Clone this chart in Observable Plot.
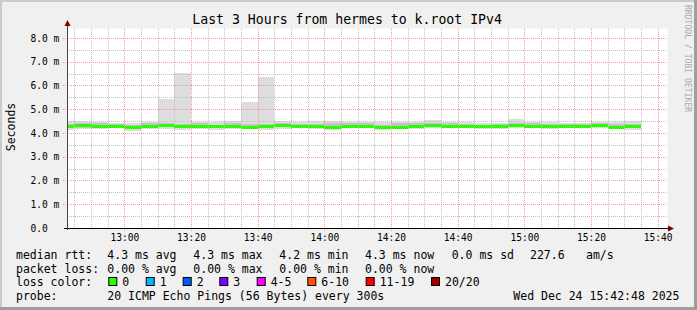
<!DOCTYPE html>
<html><head><meta charset="utf-8">
<script src="https://cdn.jsdelivr.net/npm/d3@7"></script>
<script src="https://cdn.jsdelivr.net/npm/@observablehq/plot@0.6"></script>
<style>
html,body{margin:0;padding:0;background:#f0f0f0;}
#chart{width:697px;height:310px;position:relative;overflow:hidden;}
svg{display:block}
</style></head><body><div id="chart"></div>
<script>
// ---- data ----
const binStart = ["12:40","12:45","12:50","12:55","13:00","13:05","13:10","13:15","13:20","13:25",
  "13:30","13:35","13:40","13:45","13:50","13:55","14:00","14:05","14:10","14:15",
  "14:20","14:25","14:30","14:35","14:40","14:45","14:50","14:55","15:00","15:05",
  "15:10","15:15","15:20","15:25","15:30"];
const medianMs = [4.28,4.33,4.28,4.28,4.27,4.28,4.32,4.30,4.28,4.29,
  4.28,4.27,4.29,4.34,4.30,4.29,4.26,4.28,4.28,4.25,
  4.27,4.29,4.35,4.29,4.29,4.29,4.29,4.34,4.29,4.28,
  4.29,4.29,4.34,4.27,4.28];
const maxMs = [4.50,4.50,4.45,4.42,4.42,4.45,5.43,6.52,4.45,4.47,
  4.49,5.30,6.36,4.50,4.47,4.52,4.50,4.45,4.45,4.48,
  4.45,4.45,4.55,4.47,4.45,4.44,4.44,4.57,4.48,4.45,
  4.44,4.44,4.45,4.48,4.50];
const minMs = [4.14,4.16,4.18,4.20,4.10,4.18,4.17,4.12,4.18,4.12,
  4.18,4.18,4.14,4.18,4.20,4.16,4.13,4.20,4.20,4.14,
  4.16,4.18,4.20,4.20,4.20,4.18,4.18,4.20,4.20,4.16,
  4.20,4.20,4.22,4.18,4.13];
const hiMs = [4.36,4.42,4.40,4.37,4.33,4.40,4.40,4.36,4.40,4.33,
  4.44,4.38,4.36,4.40,4.36,4.36,4.40,4.42,4.41,4.34,
  4.40,4.41,4.42,4.42,4.38,4.35,4.39,4.44,4.42,4.36,
  4.38,4.39,4.40,4.36,4.36];
const loMs = [4.22,4.22,4.23,4.24,4.18,4.23,4.24,4.20,4.23,4.22,
  4.23,4.22,4.22,4.27,4.25,4.23,4.20,4.24,4.24,4.20,
  4.22,4.24,4.27,4.24,4.24,4.24,4.24,4.27,4.25,4.21,
  4.24,4.25,4.28,4.22,4.22];
const yTicks = [0,1,2,3,4,5,6,7,8];
const titleText = "Last 3 Hours from hermes to k.root IPv4";
const rttLabel = "median rtt:";
const rttStats = ["4.3 ms avg","4.3 ms max","4.2 ms min","4.3 ms now","0.0 ms sd","227.6","am/s"];
const lossLabel = "packet loss:";
const lossStats = ["0.00 % avg","0.00 % max","0.00 % min","0.00 % now"];
const lossColorLabel = "loss color:";
const lossCats = ["0","1","2","3","4-5","6-10","11-19","20/20"];
const lossColors = ["#26ff00","#00b8ff","#0059ff","#7e00ff","#ff00ff","#ff5500","#ff0000","#a10000"];
const probeLabel = "probe:";
const probeText = "20 ICMP Echo Pings (56 Bytes) every 300s";
const stampText = "Wed Dec 24 15:42:48 2025";
const day = "2025-12-24";
const rangeStart = "12:42:48", rangeEnd = "15:42:48";

// ---- layout ----
const statX = [107.3,193.3,279.3,365,451.7,530,586];
const lossSqX = [108.3,145.7,182.7,219.3,256.7,307.3,365.7,431];
const rowBase = [259,272.5,286,299.5];
const FONT = "DejaVu Sans Mono";

const toDate = s => new Date(`${day}T${s.length===5? s+":00": s}Z`);
const rows = binStart.map((s,i)=>({
  start: toDate(s), end: d3.utcMinute.offset(toDate(s), 5),
  min: minMs[i], lo: loMs[i], med: medianMs[i], hi: hiMs[i], max: maxMs[i]
}));
const t0 = toDate(rangeStart), t1 = toDate(rangeEnd);
const fmtY = d => d === 0 ? "0.0" : d.toFixed(1) + " m";

const plot = Plot.plot({
  width: 697, height: 310,
  marginLeft: 67, marginRight: 30, marginTop: 28, marginBottom: 82,
  style: {background: "transparent", fontFamily: FONT, fontSize: "9.6px", color: "#000", overflow: "visible"},
  x: {type: "utc", domain: [t0, t1]},
  y: {domain: [0, 8.42]},
  marks: [
    Plot.frame({fill: "#ffffff", stroke: "none"}),
    Plot.rect(rows, {x1: "start", x2: "end", y1: "min", y2: "max", fill: "#dddddd", clip: true, shapeRendering: "crispEdges"}),
    Plot.rect(rows, {x1: "start", x2: "end", y1: "lo", y2: "hi", fill: "#c4c4c4", clip: true, shapeRendering: "crispEdges"}),
    Plot.ruleY(rows, {y: "med", x1: "start", x2: "end", stroke: "#26ff00", strokeWidth: 3, clip: true, shapeRendering: "crispEdges"}),
    Plot.gridX({ticks: d3.utcMinute.every(5), stroke: "#c0c0c0", strokeOpacity: 1, strokeDasharray: "1,1", shapeRendering: "crispEdges"}),
    Plot.gridY({ticks: d3.range(0.5, 8.5, 0.5), stroke: "#c0c0c0", strokeOpacity: 1, strokeDasharray: "1,1", shapeRendering: "crispEdges"}),
    Plot.gridX({ticks: d3.utcMinute.every(20), stroke: "#f09a9a", strokeOpacity: 1, strokeDasharray: "1,1", shapeRendering: "crispEdges"}),
    Plot.gridY({ticks: yTicks.slice(1), stroke: "#f09a9a", strokeOpacity: 1, strokeDasharray: "1,1", shapeRendering: "crispEdges"}),
    Plot.axisX({ticks: d3.utcMinute.every(20), tickFormat: d3.utcFormat("%H:%M"), tickSize: 0, tickPadding: 6, label: null, fontSize: 9.6}),
    Plot.axisY({ticks: yTicks, tickFormat: fmtY, tickSize: 0, tickPadding: 0, textAnchor: "start", dx: -37, label: null, fontSize: 9.6})
  ]
});
document.getElementById("chart").appendChild(plot);

const svg = d3.select(plot);
const xs = plot.scale("x"), ys = plot.scale("y");
const ax = xs.apply(t0), ay = ys.apply(0), axR = xs.apply(t1);

// small ticks outside the plot area
yTicks.slice(1).forEach(v => {
  svg.append("line").attr("x1", ax - 4).attr("x2", ax).attr("y1", Math.round(ys.apply(v)) + 0.5).attr("y2", Math.round(ys.apply(v)) + 0.5)
    .attr("stroke", "#f09a9a").attr("stroke-dasharray", "1,1");
});
d3.utcMinute.every(20).range(t0, t1).forEach(t => {
  const x = Math.round(xs.apply(t)) + 0.5;
  svg.append("line").attr("x1", x).attr("x2", x).attr("y1", ay).attr("y2", ay + 3).attr("stroke", "#f09a9a").attr("stroke-dasharray", "1,1");
});

// axes lines and arrows
svg.append("line").attr("x1", Math.round(ax) - 3).attr("x2", axR + 4).attr("y1", Math.round(ay) + 0.5).attr("y2", Math.round(ay) + 0.5).attr("stroke", "#000");
svg.append("line").attr("x1", Math.round(ax) + 0.5).attr("x2", Math.round(ax) + 0.5).attr("y1", ay + 2).attr("y2", 23).attr("stroke", "#444");
svg.append("path").attr("d", `M${Math.round(ax)-2.5},26 L${Math.round(ax)+3.5},26 L${Math.round(ax)+0.5},20 Z`).attr("fill", "#7f0000");
svg.append("path").attr("d", `M${axR+1},${Math.round(ay)-2.5} L${axR+1},${Math.round(ay)+3.5} L${axR+7},${Math.round(ay)+0.5} Z`).attr("fill", "#7f0000");

// texts
const txt = (x, y, s, size, opts = {}) => {
  const t = svg.append("text").attr("x", x).attr("y", y).text(s)
    .attr("font-family", FONT).attr("font-size", size + "px").attr("fill", opts.fill || "#000")
    .attr("text-anchor", opts.anchor || "start").style("white-space", "pre");
  if (opts.transform) t.attr("transform", opts.transform).attr("x", 0).attr("y", 0);
  return t;
};
txt(192.3, 24, titleText, 13.2);
txt(0, 0, "Seconds", 11.5, {anchor: "middle", transform: "translate(15,127) rotate(-90)"});
txt(0, 0, "RRDTOOL / TOBI OETIKER", 8.1, {fill: "#aaaaaa", transform: "translate(685,5) rotate(90)"});

txt(16, rowBase[0], rttLabel, 11.5);
rttStats.forEach((s, i) => txt(statX[i], rowBase[0], s, 11.5));
txt(16, rowBase[1], lossLabel, 11.5);
lossStats.forEach((s, i) => txt(statX[i], rowBase[1], s, 11.5));
txt(16, rowBase[2], lossColorLabel, 11.5);
lossCats.forEach((c, i) => {
  svg.append("rect").attr("x", lossSqX[i] + 0.5).attr("y", rowBase[2] - 8.5).attr("width", 8).attr("height", 8)
    .attr("fill", lossColors[i]).attr("stroke", "#000").attr("stroke-width", 1);
  txt(lossSqX[i] + 14, rowBase[2], c, 11.5);
});
txt(16, rowBase[3], probeLabel, 11.5);
txt(statX[0], rowBase[3], probeText, 11.5);
txt(513.3, rowBase[3], stampText, 11.5);

// 3D frame border
svg.append("rect").attr("x", 0).attr("y", 0).attr("width", 697).attr("height", 2).attr("fill", "#cbcbcb");
svg.append("rect").attr("x", 0).attr("y", 0).attr("width", 2).attr("height", 310).attr("fill", "#cbcbcb");
svg.append("rect").attr("x", 0).attr("y", 307).attr("width", 697).attr("height", 3).attr("fill", "#9e9e9e");
svg.append("rect").attr("x", 694).attr("y", 0).attr("width", 3).attr("height", 310).attr("fill", "#9e9e9e");
</script></body></html>
